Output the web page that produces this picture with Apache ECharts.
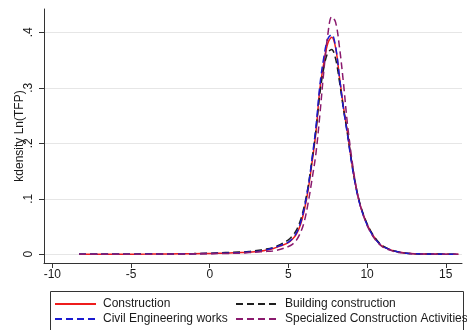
<!DOCTYPE html>
<html>
<head>
<meta charset="utf-8">
<script src="https://cdn.jsdelivr.net/npm/echarts@6/dist/echarts.min.js"></script>
<style>
  html, body { margin: 0; padding: 0; background: #fff; }
  #chart { width: 467px; height: 330px; }
</style>
</head>
<body>
<div id="chart"></div>
<script>
// Kernel density estimates of Ln(TFP) by construction sub-sector
const lnTfp = [-8.3, -7, -6, -5, -4, -3, -2, -1, 0, 1,
  2, 2.5, 3, 3.5, 4, 4.5, 5, 5.25, 5.5, 5.75,
  6, 6.25, 6.5, 6.75, 7, 7.25, 7.5, 7.75, 8, 8.25,
  8.5, 8.75, 9, 9.25, 9.5, 9.75, 10, 10.25, 10.5, 10.75,
  11, 11.5, 12, 12.5, 13, 14, 15, 15.8];

const construction = [0, 0, 0, 0.0002, 0.0003, 0.0005, 0.0008, 0.001, 0.0015, 0.002,
  0.003, 0.004, 0.005, 0.007, 0.010, 0.015, 0.021, 0.027, 0.036, 0.052,
  0.078, 0.115, 0.165, 0.220, 0.298, 0.345, 0.380, 0.391, 0.372, 0.318,
  0.265, 0.220, 0.170, 0.128, 0.095, 0.072, 0.054, 0.040, 0.029, 0.020,
  0.014, 0.008, 0.004, 0.002, 0.001, 0.0005, 0.0002, 0];

const buildingConstruction = [0, 0, 0, 0.0002, 0.0004, 0.0006, 0.001, 0.0013, 0.002, 0.003,
  0.004, 0.005, 0.007, 0.009, 0.012, 0.018, 0.026, 0.033, 0.043, 0.060,
  0.086, 0.122, 0.170, 0.224, 0.290, 0.336, 0.363, 0.369, 0.352, 0.310,
  0.262, 0.218, 0.170, 0.128, 0.096, 0.073, 0.055, 0.041, 0.030, 0.021,
  0.015, 0.008, 0.004, 0.002, 0.001, 0.0005, 0.0002, 0];

const civilEngineering = [0, 0, 0, 0.0002, 0.0003, 0.0005, 0.0008, 0.001, 0.0015, 0.002,
  0.003, 0.004, 0.005, 0.007, 0.011, 0.016, 0.022, 0.028, 0.038, 0.055,
  0.082, 0.120, 0.172, 0.230, 0.305, 0.355, 0.388, 0.396, 0.374, 0.318,
  0.262, 0.216, 0.167, 0.126, 0.094, 0.071, 0.053, 0.039, 0.028, 0.020,
  0.014, 0.008, 0.004, 0.002, 0.001, 0.0005, 0.0002, 0];

const specialized = [0, 0, 0, 0.0001, 0.0002, 0.0004, 0.0006, 0.0008, 0.001, 0.0015,
  0.002, 0.003, 0.004, 0.005, 0.006, 0.009, 0.014, 0.018, 0.025, 0.038,
  0.058, 0.092, 0.135, 0.182, 0.252, 0.330, 0.395, 0.428, 0.418, 0.372,
  0.308, 0.235, 0.178, 0.130, 0.095, 0.071, 0.052, 0.038, 0.027, 0.019,
  0.013, 0.007, 0.003, 0.002, 0.001, 0.0004, 0.0001, 0];

const xTicks = [-10, -5, 0, 5, 10, 15];
const yTicks = [0, 0.1, 0.2, 0.3, 0.4];

const seriesNames = ['Construction', 'Building construction', 'Civil Engineering works', 'Specialized Construction Activities'];

const FONT = 'Liberation Sans, Arial, sans-serif';
const TEXT = '#1a1a1a';

function pairs(ys) { return lnTfp.map((x, i) => [x, ys[i]]); }

function lineSeries(name, ys, color, type) {
  return {
    name: name,
    type: 'line',
    data: pairs(ys),
    smooth: 0.35,
    symbol: 'none',
    showSymbol: false,
    lineStyle: { color: color, width: 1.5, type: type },
    itemStyle: { color: color },
    emphasis: { disabled: true },
    animation: false
  };
}

function legendColumn(left, names, textGap) {
  return {
    orient: 'vertical',
    left: left,
    top: 298,
    itemWidth: 41,
    itemHeight: 10,
    itemGap: 3,
    padding: 0,
    selectedMode: false,
    itemStyle: { opacity: 0 },
    data: names,
    textStyle: { color: TEXT, fontSize: 12, fontFamily: FONT, padding: [0, 0, 0, textGap] }
  };
}

const chart = echarts.init(document.getElementById('chart'), null, { renderer: 'canvas' });

chart.setOption({
  backgroundColor: '#ffffff',
  animation: false,
  textStyle: { fontFamily: FONT },
  grid: { left: 44, right: 5, top: 9, bottom: 67, containLabel: false, outerBoundsMode: 'none' },
  xAxis: {
    type: 'value',
    min: -10.53,
    max: 16.03,
    axisLine: { show: true, onZero: false, lineStyle: { color: '#333', width: 1 } },
    axisTick: { show: true, length: 5, customValues: xTicks, lineStyle: { color: '#333' } },
    axisLabel: { customValues: xTicks, color: TEXT, fontSize: 12, fontFamily: FONT, margin: 6 },
    splitLine: { show: false }
  },
  yAxis: {
    type: 'value',
    min: -0.0157,
    max: 0.442,
    name: 'kdensity Ln(TFP)',
    nameLocation: 'middle',
    nameGap: 18,
    nameMoveOverlap: false,
    nameRotate: 90,
    nameTextStyle: { color: TEXT, fontSize: 12, fontFamily: FONT },
    axisLine: { show: true, onZero: false, lineStyle: { color: '#333', width: 1 } },
    axisTick: { show: true, length: 5, customValues: yTicks, lineStyle: { color: '#333' } },
    axisLabel: {
      customValues: yTicks,
      rotate: 90,
      color: TEXT,
      fontSize: 12,
      fontFamily: FONT,
      margin: 9,
      formatter: v => (v === 0 ? '0' : String(Math.round(v * 10) / 10).replace(/^0/, ''))
    },
    splitLine: { show: true, lineStyle: { color: '#e6e6e6', width: 1 } }
  },
  legend: [
    legendColumn(54, [seriesNames[0], seriesNames[2]], 2),
    legendColumn(235, [seriesNames[1], seriesNames[3]], 3)
  ],
  graphic: [
    {
      type: 'rect',
      left: 48,
      top: 289,
      shape: { width: 413, height: 39 },
      style: { fill: 'none', stroke: '#333', lineWidth: 1 },
      silent: true
    }
  ],
  series: [
    lineSeries(seriesNames[0], construction, '#ee1c1c', 'solid'),
    lineSeries(seriesNames[1], buildingConstruction, '#1e1e1e', [7, 4]),
    lineSeries(seriesNames[2], civilEngineering, '#1a1ad0', [7, 4]),
    lineSeries(seriesNames[3], specialized, '#8a1a6e', [7, 4])
  ]
});
</script>
</body>
</html>
